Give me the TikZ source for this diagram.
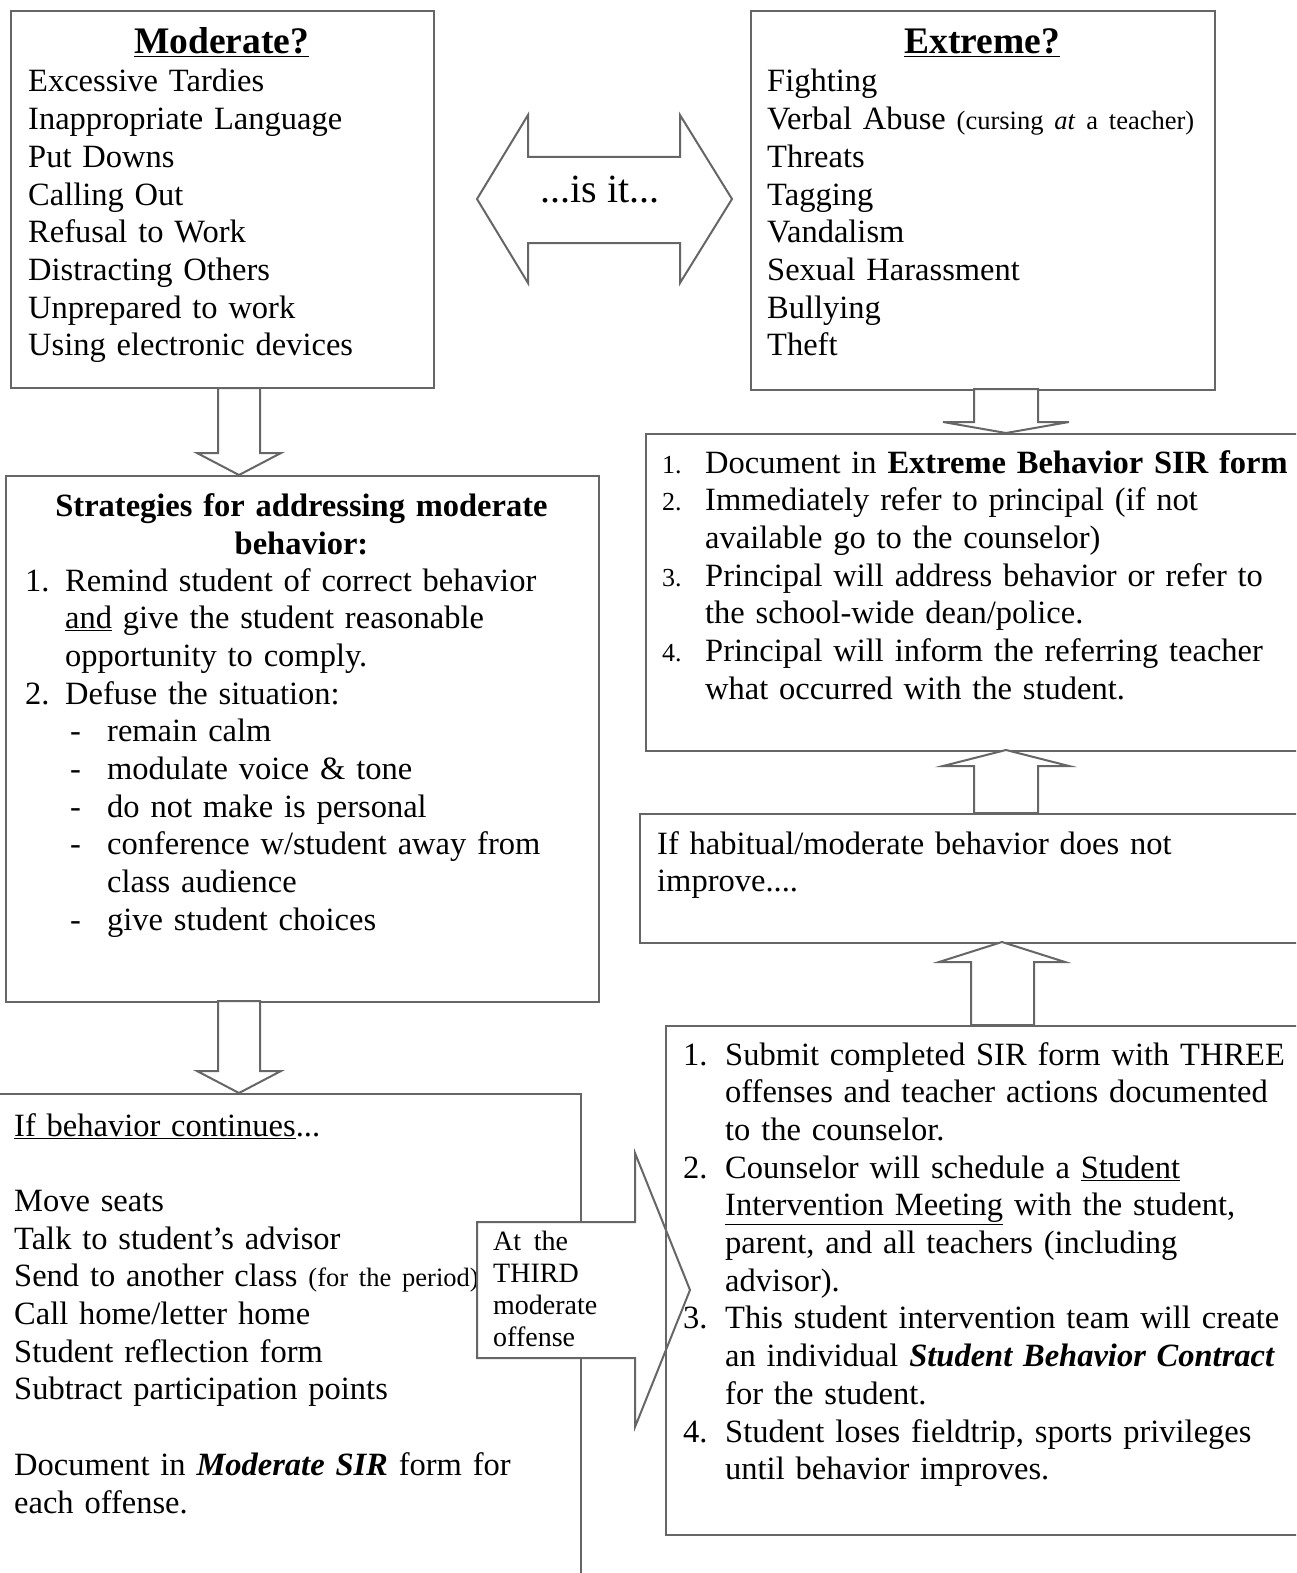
\documentclass[tikz,border=0pt]{standalone}
\usepackage{fontspec}
\setmainfont{Liberation Serif}
\usetikzlibrary{positioning,calc}
\colorlet{linegray}{black!60}
\newcommand{\numitem}[2]{\hangindent=#1\hangafter=1\noindent\makebox[#1][l]{#2}}
\newcommand{\dashitem}{\hangindent=82pt\hangafter=1\noindent\hspace*{45pt}\makebox[37pt][l]{-}}
\newcommand{\smnum}{\fontsize{26}{37.7}\selectfont}
\newcommand{\smpar}{\fontsize{26.5}{37.7}\selectfont}

\begin{document}
\begin{tikzpicture}[x=1pt, y=-1pt,
	box/.style={draw=linegray, line width=2pt, rectangle, anchor=north west, inner sep=0pt},
	txt/.style={anchor=base west, inner sep=0pt, align=left, text width=#1, font=\fontsize{32.5}{37.7}\selectfont},
	ttl/.style={anchor=base, inner sep=0pt, align=center, font=\fontsize{37.5}{38}\selectfont\bfseries},
	blockarrow/.style={draw=linegray, line width=2pt, fill=white, line join=miter}]
				\useasboundingbox (0,0) rectangle (1296,1573);
				\clip (0,0) rectangle (1296,1573);

				% Nodes

				\node [box, minimum width=423pt, minimum height=377pt] (mod) at (10,10) {};
				\node [box, minimum width=464pt, minimum height=379pt] (ext) at (750,10) {};
				\node [box, minimum width=700pt, minimum height=317pt] (sir) at (645,433) {};
				\node [box, minimum width=593pt, minimum height=526pt] (strat) at (5,475) {};
				\node [box, minimum width=700pt, minimum height=129pt] (hab) at (639,813) {};
				\node [box, minimum width=583pt, minimum height=600pt] (cont) at (-3,1093) {};

				\node [ttl] (modtitle) at (221.5,54) {\underline{Moderate?}};
				\node [txt=400pt] (modlist) at (28,92)
				{Excessive Tardies\\Inappropriate Language\\Put Downs\\Calling Out\\Refusal to Work\\Distracting Others\\Unprepared to work\\Using electronic devices};
				\node [ttl] (exttitle) at (982,54) {\underline{Extreme?}};
				\node [txt=520pt] (extlist) at (767,92)
				{Fighting\\Verbal Abuse {\smpar(cursing \textit{at} a teacher)}\\Threats\\Tagging\\Vandalism\\Sexual Harassment\\Bullying\\Theft};
				\node [ttl, text width=590pt, font=\fontsize{32.5}{38}\selectfont\bfseries] (strattitle) at (301.5,516) {Strategies for addressing moderate\\behavior:};
				\node [txt=600pt] (stratlist) at (25,591)
				{\numitem{40pt}{1.}Remind student of correct behavior\newline\underline{and} give the student reasonable\newline opportunity to comply.\par
				\numitem{40pt}{2.}Defuse the situation:\par
				\dashitem remain calm\par
				\dashitem modulate voice \& tone\par
				\dashitem do not make is personal\par
				\dashitem conference w/student away from\newline class audience\par
				\dashitem give student choices\par};
				\node [txt=640pt] (sirlist) at (662,473)
				{\numitem{43pt}{\smnum 1.}Document in \textbf{Extreme Behavior SIR form}\par
				\numitem{43pt}{\smnum 2.}Immediately refer to principal (if not\newline available go to the counselor)\par
				\numitem{43pt}{\smnum 3.}Principal will address behavior or refer to\newline the school-wide dean/police.\par
				\numitem{43pt}{\smnum 4.}Principal will inform the referring teacher\newline what occurred with the student.\par};
				\node [txt=640pt] (habtext) at (657,854) {If habitual/moderate behavior does not\\improve....};
				\node [txt=600pt] (contlist) at (14,1136)
				{\underline{If behavior continues}...\\\mbox{}\\Move seats\\Talk to student's advisor\\Send to another class {\smpar(for the period)}\\Call home/letter home\\Student reflection form\\Subtract participation points\\\mbox{}\\Document in \textbf{\textit{Moderate SIR}} form for\\each offense.};

				% Arrows

				\coordinate (isl) at (477,199);
				\draw [blockarrow] (isl) -- ++(51,-84) -- ++(0,42) -- ++(152,0) -- ++(0,-42) -- ++(52,84) -- ++(-52,84) -- ++(0,-40) -- ++(-152,0) -- ++(0,40) -- cycle;
				\node [anchor=base, inner sep=0pt, font=\fontsize{40}{40}\selectfont] (isit) at (600,202) {...is it...};

				\coordinate (a1) at (239,475);
				\draw [blockarrow] (a1) -- ++(42,-22) -- ++(-21,0) -- ++(0,-65) -- ++(-42,0) -- ++(0,65) -- ++(-21,0) -- cycle;
				\coordinate (a2) at (239,1093);
				\draw [blockarrow] (a2) -- ++(42,-22) -- ++(-21,0) -- ++(0,-70) -- ++(-42,0) -- ++(0,70) -- ++(-21,0) -- cycle;
				\coordinate (a3) at (1006,433);
				\draw [blockarrow] (a3) -- ++(63,-11) -- ++(-31,0) -- ++(0,-33) -- ++(-64,0) -- ++(0,33) -- ++(-31,0) -- cycle;
				\coordinate (a4) at (1006,750);
				\draw [blockarrow] (a4) -- ++(63,16) -- ++(-31,0) -- ++(0,47) -- ++(-64,0) -- ++(0,-47) -- ++(-31,0) -- cycle;
				\coordinate (a5) at (1002,942);
				\draw [blockarrow] (a5) -- ++(63,20) -- ++(-31,0) -- ++(0,63) -- ++(-63,0) -- ++(0,-63) -- ++(-32,0) -- cycle;

				\coordinate (a6) at (690,1290);
				\draw [blockarrow] (a6) -- ++(-55,-137) -- ++(0,69) -- ++(-158,0) -- ++(0,136) -- ++(158,0) -- ++(0,69) -- cycle;
				\node [anchor=base west, inner sep=0pt, align=left, text width=130pt, font=\fontsize{28}{32.2}\selectfont] (third) at (493,1250) {At\hspace{0.45em}the\\THIRD\\moderate\\offense};

				\node [box, minimum width=700pt, minimum height=509pt] (team) at (665,1025) {};
				\node [txt=640pt] (teamlist) at (683,1065)
				{\numitem{42pt}{1.}Submit completed SIR form with THREE\newline offenses and teacher actions documented\newline to the counselor.\par
				\numitem{42pt}{2.}Counselor will schedule a \underline{Student}\newline\underline{Intervention Meeting} with the student,\newline parent, and all teachers (including\newline advisor).\par
				\numitem{42pt}{3.}This student intervention team will create\newline an individual \textbf{\textit{Student Behavior Contract}}\newline for the student.\par
				\numitem{42pt}{4.}Student loses fieldtrip, sports privileges\newline until behavior improves.\par};
			\end{tikzpicture}
\end{document}
